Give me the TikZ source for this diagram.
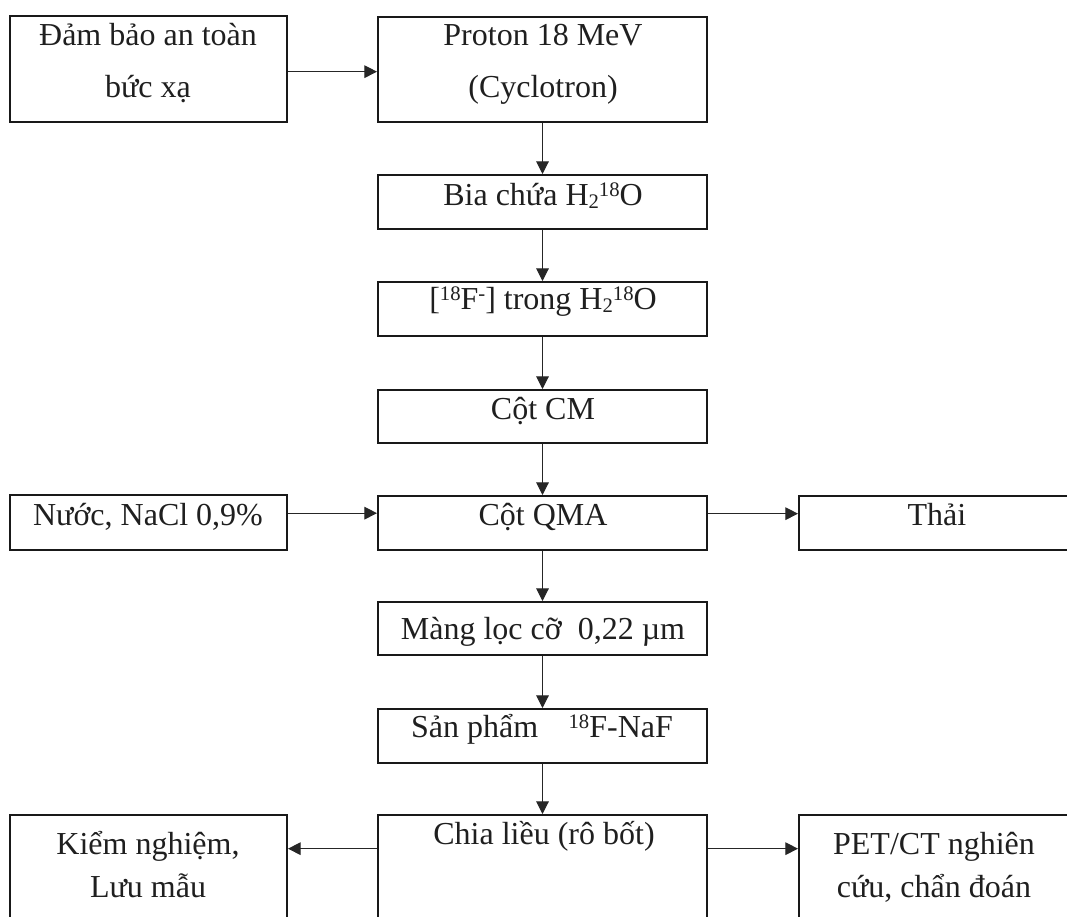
\documentclass[tikz,border=0pt]{standalone}
\usepackage{fontspec}
\setmainfont{Liberation Serif}
\usetikzlibrary{arrows.meta,fit}
\newcommand{\sps}[1]{\raisebox{6.5pt}{\fontsize{15.5}{15.5}\selectfont #1}}
\newcommand{\sbs}[1]{\raisebox{-2.5pt}{\fontsize{15.5}{15.5}\selectfont #1}}
\begin{document}
\begin{tikzpicture}[x=0.75pt,y=-0.75pt,
  box/.style={draw=black!90, line width=1.5pt, inner sep=0pt},
  txt/.style={anchor=base, inner sep=0pt, font=\fontsize{24}{24}\selectfont, text=black!88},
  arr/.style={draw=black!85, line width=0.8pt, -{Triangle[length=9.5pt,width=9.5pt]}}]
\useasboundingbox (0,0) rectangle (1067,917);
\clip (0,0) rectangle (1067,917);
% boxes
\node[box, fit={(10,16) (287,122)}] (b1) {};
\node[box, fit={(378,17) (707,122)}] (b2) {};
\node[box, fit={(378,175) (707,229)}] (b3) {};
\node[box, fit={(378,282) (707,336)}] (b4) {};
\node[box, fit={(378,390) (707,443)}] (b5) {};
\node[box, fit={(378,496) (707,550)}] (b6) {};
\node[box, fit={(10,495) (287,550)}] (nuoc) {};
\node[box, fit={(799,496) (1075,550)}] (thai) {};
\node[box, fit={(378,602) (707,655)}] (b7) {};
\node[box, fit={(378,709) (707,763)}] (b8) {};
\node[box, fit={(10,815) (287,940)}] (kiem) {};
\node[box, fit={(378,815) (707,940)}] (chia) {};
\node[box, fit={(799,815) (1075,940)}] (pet) {};
% texts
\node[txt] (t1a) at (148,46) {Đảm bảo an toàn};
\node[txt] (t1b) at (148,98) {bức xạ};
\node[txt] (t2a) at (543,46) {Proton 18 MeV};
\node[txt] (t2b) at (543,98) {(Cyclotron)};
\node[txt] (t3) at (543,205) {Bia chứa H\sbs{2}\sps{18}O};
\node[txt] (t4) at (543,309) {[\sps{18}F\sps{-}] trong H\sbs{2}\sps{18}O};
\node[txt] (t5) at (543,419) {Cột CM};
\node[txt] (t6) at (543,525) {Cột QMA};
\node[txt] (tn) at (148,525) {Nước, NaCl 0,9\%};
\node[txt] (tt) at (937,525) {Thải};
\node[txt] (t7) at (543,639) {Màng lọc cỡ\ \ 0,22 µm};
\node[txt] (t8) at (542,737) {Sản phẩm\hspace{0.95em}\sps{18}F-NaF};
\node[txt] (tk1) at (148,854) {Kiểm nghiệm,};
\node[txt] (tk2) at (148,897) {Lưu mẫu};
\node[txt] (tc) at (544,844) {Chia liều (rô bốt)};
\node[txt] (tp1) at (934,854) {PET/CT nghiên};
\node[txt] (tp2) at (934,897) {cứu, chẩn đoán};
% connectors
\draw[arr] ([yshift=-2pt]b1.east) -- ([yshift=-2pt]b1.east -| b2.west);
\draw[arr] (b2.south) -- (b3.north);
\draw[arr] (b3.south) -- (b4.north);
\draw[arr] (b4.south) -- (b5.north);
\draw[arr] (b5.south) -- (b6.north);
\draw[arr] ([yshift=7pt]nuoc.east) -- ([yshift=7pt]nuoc.east -| b6.west);
\draw[arr] ([yshift=7pt]b6.east) -- ([yshift=7pt]b6.east -| thai.west);
\draw[arr] (b6.south) -- (b7.north);
\draw[arr] (b7.south) -- (b8.north);
\draw[arr] (b8.south) -- (chia.north);
\draw[arr] ([yshift=-26pt]chia.north west) -- ([yshift=-26pt]chia.north west -| kiem.east);
\draw[arr] ([yshift=-26pt]chia.north east) -- ([yshift=-26pt]chia.north east -| pet.west);
\end{tikzpicture}
\end{document}
